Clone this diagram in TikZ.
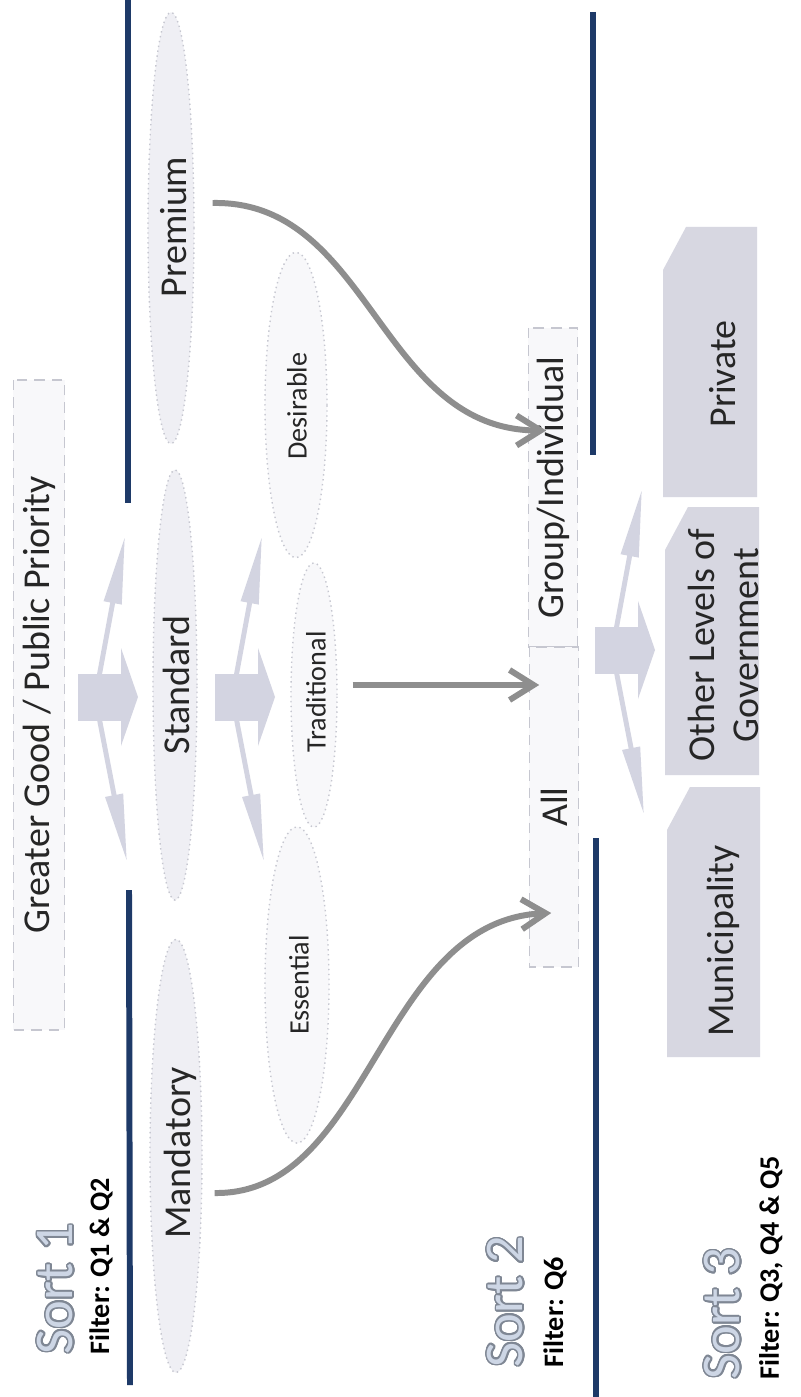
\documentclass[tikz,border=0pt]{standalone}
\usepackage{fontspec}
\setmainfont{Carlito}
\usepackage{contour}
\contourlength{0.45pt}
\contournumber{24}
\usetikzlibrary{arrows.meta,shapes.geometric,calc}
\definecolor{navy}{HTML}{1E3A68}
\definecolor{lav}{HTML}{D3D4E1}
\definecolor{boxc}{HTML}{D7D7E1}
\definecolor{ovalfill}{HTML}{EFEFF4}
\definecolor{ovalfillb}{HTML}{F8F8FA}
\definecolor{ovaldraw}{HTML}{C6C7D0}
\definecolor{garr}{HTML}{8E8E8E}
\definecolor{sortfill}{HTML}{CDD6E5}
\definecolor{sortedge}{HTML}{7F8794}
\definecolor{txt}{HTML}{262626}
\newcommand{\sorttext}[1]{\contour{sortedge}{#1}}
\begin{document}
\begin{tikzpicture}[x=0.01cm,y=-0.01cm,
  oval/.style={ellipse, draw=ovaldraw, densely dotted, fill=ovalfill, inner sep=0pt},
  ovalb/.style={oval, fill=ovalfillb},
  lbl/.style={rotate=90, inner sep=0pt, text=txt, font=\fontsize{10.8}{12.5}\selectfont},
  slbl/.style={rotate=90, inner sep=0pt, text=txt, font=\fontsize{8}{9.6}\selectfont},
  palebox/.style={rotate=90, draw=ovaldraw, densely dashed, fill=ovalfillb, inner sep=0pt, text=txt, font=\fontsize{10.8}{12.5}\selectfont},
  sortlbl/.style={rotate=90, anchor=west, inner sep=0pt, text=sortfill, font=\fontsize{15.5}{18}\selectfont},
  filterlbl/.style={rotate=90, anchor=west, inner sep=0pt, text=black, font=\bfseries\fontsize{8}{9.6}\selectfont},
  sep/.style={draw=navy, line width=1.7pt},
  garrow/.style={draw=garr, line width=1.7pt, -{Straight Barb[length=0.24cm,width=0.3cm]}},
  thinarr/.style={draw=lav, line width=1.4pt, -{Triangle[length=0.68cm,width=0.17cm]}},
  fork/.pic={
    \fill[lav] (0,-23.5) rectangle (43,23.5);
    \fill[lav] (43,-49) -- (60,0) -- (43,49) -- cycle;
    \draw[thinarr] (21,-20) -- (47,-161);
    \draw[thinarr] (21,20) -- (49,165);
  }
]
\useasboundingbox (0,0) rectangle (800,1397);
\fill[white] (0,0) rectangle (800,1397);

% separator lines
\draw[sep] (128,0) -- (128,503);
\draw[sep] (129,890) -- (130,1385);
\draw[sep] (593,12) -- (593,455);
\draw[sep] (596,838) -- (596,1397);

% Greater Good box
\node[palebox, minimum width=6.50cm, minimum height=0.51cm] (gg) at (39,705) {Greater Good / Public Priority};

% Sort 1 ellipses
\node[oval, minimum width=0.46cm, minimum height=4.31cm] (prem) at (171,228) {};
\node[lbl] (premt) at (174,227) {Premium};
\node[oval, minimum width=0.44cm, minimum height=4.30cm] (std) at (175,685) {};
\node[lbl] (stdt) at (176,685) {Standard};
\node[oval, minimum width=0.52cm, minimum height=4.33cm] (mand) at (176,1156) {};
\node[lbl] (mandt) at (180,1153) {Mandatory};

\node[ovalb, minimum width=0.62cm, minimum height=3.05cm] (des) at (296,405) {};
\node[slbl] (dest) at (297,406) {Desirable};
\node[ovalb, minimum width=0.46cm, minimum height=2.64cm] (trad) at (314,695) {};
\node[slbl] (tradt) at (316,692) {Traditional};
\node[ovalb, minimum width=0.64cm, minimum height=3.16cm] (ess) at (297,985) {};
\node[slbl] (esst) at (299,985) {Essential};

% split arrows
\pic (forkA) at (78,697) {fork};
\pic (forkB) at (215,697) {fork};
\pic (forkC) at (595,650) {fork};

% Sort 2 box
\node[palebox, minimum width=3.19cm, minimum height=0.49cm] (grp) at (553,487.5) {Group/Individual};
\node[palebox, minimum width=3.20cm, minimum height=0.49cm] (all) at (554,807) {All};

% connectors
\draw[garrow] ($(prem.east)+(18,-25)$) .. controls ($(prem.east)+(176,-28)$) and ($(grp.south)+(-199,-57)$) .. ($(grp.south)+(-32,-57)$);
\draw[garrow] ($(mand.east)+(12,37)$) .. controls ($(mand.east)+(168,39)$) and ($(all.south)+(-200,113)$) .. ($(all.south)+(-28,106)$);
\draw[garrow] ($(trad.east)+(15,-10)$) -- ($(all.south |- trad.east)+(-40,-10)$);

% Sort 3 boxes
\fill[boxc] (663,497) -- (663,270) -- (686,227) -- (757,227) -- (757,497) -- cycle;
\node[lbl] (priv) at (723,374) {Private};
\fill[boxc] (665,775) -- (665,550) -- (688,507) -- (759,507) -- (759,775) -- cycle;
\node[lbl, align=center] (other) at (723,645) {Other Levels of\\Government};
\fill[boxc] (667,1057) -- (667,830) -- (690,787) -- (760,787) -- (760,1057) -- cycle;
\node[lbl] (muni) at (723,941) {Municipality};

% Sort labels
\node[sortlbl] (s1) at (56,1355) {\sorttext{Sort 1}};
\node[filterlbl] (f1) at (101,1355) {Filter: Q1 \& Q2};
\node[sortlbl] (s2) at (506,1368) {\sorttext{Sort 2}};
\node[filterlbl] (f2) at (555,1368) {Filter: Q6};
\node[sortlbl] (s3) at (723,1380) {\sorttext{Sort 3}};
\node[filterlbl] (f3) at (771,1380) {Filter: Q3, Q4 \& Q5};
\end{tikzpicture}
\end{document}
